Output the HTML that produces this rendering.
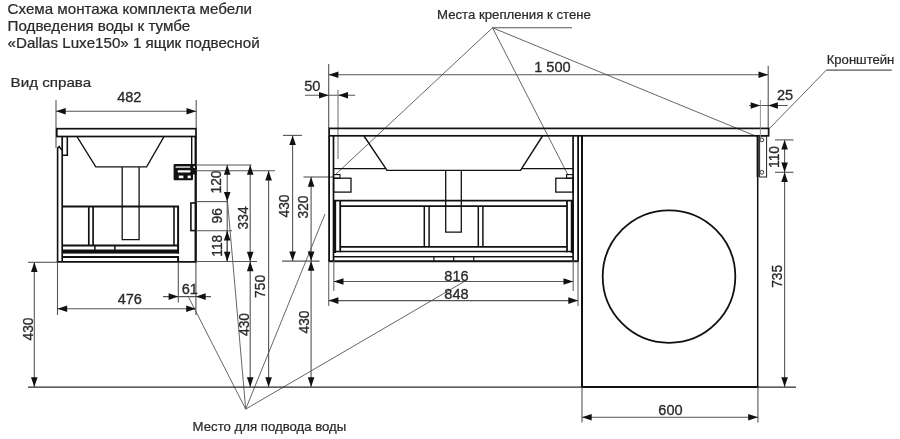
<!DOCTYPE html>
<html lang="ru">
<head>
<meta charset="utf-8">
<title>Схема монтажа комплекта мебели</title>
<style>
html,body{margin:0;padding:0;background:#fff;}
body{width:900px;height:439px;overflow:hidden;}
svg{display:block;font-family:"Liberation Sans",sans-serif;filter:blur(0.4px);}
</style>
</head>
<body>
<svg width="900" height="439" viewBox="0 0 900 439">
<rect x="0" y="0" width="900" height="439" fill="#fff"/>
<text transform="translate(7.6 13.5) scale(1.09 1)" font-size="13.9" text-anchor="start" fill="#2a2a2a" stroke="#2a2a2a" stroke-width="0.22">Схема монтажа комплекта мебели</text>
<text transform="translate(7.6 30.8) scale(1.09 1)" font-size="13.9" text-anchor="start" fill="#2a2a2a" stroke="#2a2a2a" stroke-width="0.22">Подведения воды к тумбе</text>
<text transform="translate(7.6 47.9) scale(1.09 1)" font-size="13.9" text-anchor="start" fill="#2a2a2a" stroke="#2a2a2a" stroke-width="0.22">«Dallas Luxe150» 1 ящик подвесной</text>
<text transform="translate(10.6 86.8) scale(1.115 1)" font-size="13.6" text-anchor="start" fill="#2a2a2a" stroke="#2a2a2a" stroke-width="0.22">Вид справа</text>
<text transform="translate(437 19.4)" font-size="13.2" text-anchor="start" fill="#2a2a2a" stroke="#2a2a2a" stroke-width="0.22">Места крепления к стене</text>
<text transform="translate(826.7 63.7)" font-size="13.1" text-anchor="start" fill="#2a2a2a" stroke="#2a2a2a" stroke-width="0.22">Кронштейн</text>
<text transform="translate(192.6 431.4)" font-size="13.2" text-anchor="start" fill="#2a2a2a" stroke="#2a2a2a" stroke-width="0.22">Место для подвода воды</text>
<line x1="492.5" y1="27.8" x2="572" y2="27.8" stroke="#555" stroke-width="1.1"/>
<line x1="492.5" y1="27.8" x2="336" y2="174" stroke="#555" stroke-width="0.9"/>
<line x1="492.5" y1="27.8" x2="568" y2="175" stroke="#555" stroke-width="0.9"/>
<line x1="492.5" y1="27.8" x2="757.5" y2="136.8" stroke="#555" stroke-width="0.9"/>
<line x1="826.3" y1="70.1" x2="891.7" y2="70.1" stroke="#555" stroke-width="1.1"/>
<line x1="826.3" y1="70.1" x2="769" y2="129" stroke="#555" stroke-width="0.9"/>
<line x1="245.7" y1="409.1" x2="188.5" y2="297" stroke="#555" stroke-width="0.9"/>
<line x1="245.7" y1="409.1" x2="227.5" y2="201" stroke="#555" stroke-width="0.9"/>
<line x1="245.7" y1="409.1" x2="325" y2="214" stroke="#555" stroke-width="0.9"/>
<line x1="245.7" y1="409.1" x2="466" y2="280.5" stroke="#555" stroke-width="0.9"/>
<line x1="28" y1="387" x2="796" y2="387" stroke="#2a2a2a" stroke-width="1.25"/>
<line x1="581.2" y1="387" x2="758.4" y2="387" stroke="#111" stroke-width="1.9"/>
<line x1="56" y1="100" x2="56" y2="148" stroke="#555" stroke-width="1.1"/>
<line x1="196.2" y1="100" x2="196.2" y2="128" stroke="#555" stroke-width="1.1"/>
<line x1="56" y1="111.3" x2="196.2" y2="111.3" stroke="#555" stroke-width="1.1"/>
<polygon points="56,111.3 65.7,108.0 65.7,114.6" fill="#111"/>
<polygon points="196.2,111.3 186.5,108.0 186.5,114.6" fill="#111"/>
<text transform="translate(129.3 102.0) scale(0.96 1)" font-size="15.2" text-anchor="middle" fill="#2a2a2a" stroke="#2a2a2a" stroke-width="0.32">482</text>
<rect x="56.8" y="128.7" width="139.2" height="7.8" stroke="#111" stroke-width="1.7" fill="none"/>
<path d="M57.6 262 L57.6 148.2 L59.2 146.6 L62 150.3" stroke="#111" stroke-width="1.6" fill="none" stroke-linejoin="miter"/>
<line x1="62.2" y1="136.5" x2="62.2" y2="262" stroke="#111" stroke-width="1.7"/>
<path d="M67.3 136.5 L67.3 155.2 L62.2 155.2" stroke="#111" stroke-width="1.6" fill="none" stroke-linejoin="miter"/>
<line x1="191.7" y1="136.5" x2="191.7" y2="165" stroke="#111" stroke-width="1.4"/>
<line x1="195.7" y1="136.5" x2="195.7" y2="262.6" stroke="#111" stroke-width="2.3"/>
<path d="M77 136.6 L95.8 166.9 L146.6 166.9 L164 136.6" stroke="#111" stroke-width="1.3" fill="none" stroke-linejoin="miter"/>
<path d="M122.2 166.9 L122.2 239.7 L139.1 239.7 L139.1 166.9" stroke="#111" stroke-width="1.3" fill="none" stroke-linejoin="miter"/>
<rect x="173.6" y="164" width="19.4" height="16.2" rx="1.2" fill="#111"/>
<rect x="192" y="164" width="4.6" height="10.5" fill="#111"/>
<rect x="175.6" y="166.4" width="14.6" height="1.3" fill="#fff"/>
<rect x="177.6" y="170.3" width="13" height="2.1" rx="0.8" fill="#fff"/>
<rect x="178.8" y="175.6" width="4.6" height="2.6" fill="#fff"/>
<rect x="187.6" y="175.6" width="3.2" height="2.6" fill="#fff"/>
<rect x="193.4" y="166.2" width="1.6" height="1.7" fill="#fff"/>
<rect x="190.9" y="203" width="4.9" height="27.6" stroke="#111" stroke-width="1.6" fill="none"/>
<line x1="62" y1="206.5" x2="179" y2="206.5" stroke="#111" stroke-width="1.8"/>
<line x1="88.8" y1="206.5" x2="88.8" y2="246" stroke="#111" stroke-width="1.7"/>
<line x1="93.1" y1="206.5" x2="93.1" y2="246" stroke="#111" stroke-width="1.7"/>
<line x1="174" y1="206.5" x2="174" y2="246" stroke="#111" stroke-width="1.6"/>
<line x1="178.1" y1="206.5" x2="178.1" y2="253.5" stroke="#111" stroke-width="2.0"/>
<line x1="62" y1="245.6" x2="178" y2="245.6" stroke="#111" stroke-width="2.0"/>
<rect x="62" y="249.5" width="117" height="4.1" stroke="none" stroke-width="0" fill="#111"/>
<line x1="94.9" y1="246" x2="94.9" y2="250" stroke="#111" stroke-width="1.5"/>
<line x1="114.9" y1="246" x2="114.9" y2="250" stroke="#111" stroke-width="1.5"/>
<line x1="62" y1="257" x2="179" y2="257" stroke="#111" stroke-width="1.8"/>
<line x1="178.1" y1="256.2" x2="178.1" y2="262" stroke="#111" stroke-width="2.0"/>
<line x1="56.8" y1="261.8" x2="196.8" y2="261.8" stroke="#111" stroke-width="1.8"/>
<line x1="28" y1="262.3" x2="57" y2="262.3" stroke="#555" stroke-width="1.1"/>
<line x1="57.5" y1="262" x2="57.5" y2="315" stroke="#555" stroke-width="1.1"/>
<line x1="195.9" y1="262" x2="195.9" y2="315" stroke="#555" stroke-width="1.1"/>
<line x1="178.3" y1="262" x2="178.3" y2="302.5" stroke="#555" stroke-width="1.1"/>
<line x1="57.5" y1="308.8" x2="195.9" y2="308.8" stroke="#555" stroke-width="1.1"/>
<polygon points="57.5,308.8 67.2,305.5 67.2,312.1" fill="#111"/>
<polygon points="195.9,308.8 186.2,305.5 186.2,312.1" fill="#111"/>
<text transform="translate(129.8 303.8) scale(0.96 1)" font-size="15.2" text-anchor="middle" fill="#2a2a2a" stroke="#2a2a2a" stroke-width="0.32">476</text>
<line x1="163" y1="296.6" x2="211" y2="296.6" stroke="#555" stroke-width="1.1"/>
<polygon points="178.3,296.6 168.6,293.3 168.6,299.9" fill="#111"/>
<polygon points="196,296.6 205.7,293.3 205.7,299.9" fill="#111"/>
<text transform="translate(189.8 294.0) scale(0.96 1)" font-size="15.2" text-anchor="middle" fill="#2a2a2a" stroke="#2a2a2a" stroke-width="0.32">61</text>
<line x1="34.3" y1="262.3" x2="34.3" y2="387" stroke="#555" stroke-width="1.1"/>
<polygon points="34.3,262.3 31.0,272.0 37.6,272.0" fill="#111"/>
<polygon points="34.3,387 31.0,377.3 37.6,377.3" fill="#111"/>
<text transform="translate(32.6 329.0) rotate(-90) scale(0.895 1)" font-size="15.4" text-anchor="middle" fill="#2a2a2a" stroke="#2a2a2a" stroke-width="0.32">430</text>
<line x1="196" y1="165" x2="251.5" y2="165" stroke="#555" stroke-width="1.1"/>
<line x1="196" y1="170.7" x2="275" y2="170.7" stroke="#555" stroke-width="1.1"/>
<line x1="196" y1="201.6" x2="228" y2="201.6" stroke="#555" stroke-width="1.1"/>
<line x1="196" y1="230.7" x2="232" y2="230.7" stroke="#555" stroke-width="1.1"/>
<line x1="196" y1="261.5" x2="257" y2="261.5" stroke="#555" stroke-width="1.1"/>
<line x1="227.2" y1="165" x2="227.2" y2="261.5" stroke="#555" stroke-width="1.1"/>
<polygon points="227.2,165 223.9,174.7 230.5,174.7" fill="#111"/>
<polygon points="227.2,201.6 223.9,191.9 230.5,191.9" fill="#111"/>
<text transform="translate(221.1 182.0) rotate(-90) scale(0.895 1)" font-size="15.4" text-anchor="middle" fill="#2a2a2a" stroke="#2a2a2a" stroke-width="0.32">120</text>
<text transform="translate(221.7 215.8) rotate(-90) scale(0.895 1)" font-size="15.4" text-anchor="middle" fill="#2a2a2a" stroke="#2a2a2a" stroke-width="0.32">96</text>
<line x1="227.2" y1="230.7" x2="227.2" y2="261.5" stroke="#555" stroke-width="1.1"/>
<polygon points="227.2,230.7 223.9,240.4 230.5,240.4" fill="#111"/>
<polygon points="227.2,261.5 223.9,251.8 230.5,251.8" fill="#111"/>
<text transform="translate(221.7 245.7) rotate(-90) scale(0.895 1)" font-size="15.4" text-anchor="middle" fill="#2a2a2a" stroke="#2a2a2a" stroke-width="0.32">118</text>
<line x1="250.2" y1="165" x2="250.2" y2="387" stroke="#555" stroke-width="1.1"/>
<polygon points="250.2,165 246.9,174.7 253.5,174.7" fill="#111"/>
<polygon points="250.2,261.5 246.9,251.8 253.5,251.8" fill="#111"/>
<polygon points="250.2,261.5 246.9,271.2 253.5,271.2" fill="#111"/>
<polygon points="250.2,387 246.9,377.3 253.5,377.3" fill="#111"/>
<text transform="translate(248.4 217.9) rotate(-90) scale(0.895 1)" font-size="15.4" text-anchor="middle" fill="#2a2a2a" stroke="#2a2a2a" stroke-width="0.32">334</text>
<text transform="translate(249.0 324.5) rotate(-90) scale(0.895 1)" font-size="15.4" text-anchor="middle" fill="#2a2a2a" stroke="#2a2a2a" stroke-width="0.32">430</text>
<line x1="268.6" y1="170.7" x2="268.6" y2="387" stroke="#555" stroke-width="1.1"/>
<polygon points="268.6,170.7 265.3,180.4 271.9,180.4" fill="#111"/>
<polygon points="268.6,387 265.3,377.3 271.9,377.3" fill="#111"/>
<text transform="translate(265.3 286.4) rotate(-90) scale(0.895 1)" font-size="15.4" text-anchor="middle" fill="#2a2a2a" stroke="#2a2a2a" stroke-width="0.32">750</text>
<line x1="283" y1="135.4" x2="302" y2="135.4" stroke="#555" stroke-width="1.1"/>
<line x1="282" y1="261.1" x2="319.5" y2="261.1" stroke="#555" stroke-width="1.1"/>
<line x1="292.6" y1="135.4" x2="292.6" y2="261.1" stroke="#555" stroke-width="1.1"/>
<polygon points="292.6,135.4 289.3,145.1 295.9,145.1" fill="#111"/>
<polygon points="292.6,261.1 289.3,251.4 295.9,251.4" fill="#111"/>
<text transform="translate(289.1 206.0) rotate(-90) scale(0.895 1)" font-size="15.4" text-anchor="middle" fill="#2a2a2a" stroke="#2a2a2a" stroke-width="0.32">430</text>
<line x1="303.5" y1="177" x2="334" y2="177" stroke="#555" stroke-width="1.1"/>
<line x1="311.1" y1="177" x2="311.1" y2="387" stroke="#555" stroke-width="1.1"/>
<polygon points="311.1,177 307.8,186.7 314.4,186.7" fill="#111"/>
<polygon points="311.1,261.1 307.8,251.4 314.4,251.4" fill="#111"/>
<polygon points="311.1,261.1 307.8,270.8 314.4,270.8" fill="#111"/>
<polygon points="311.1,387 307.8,377.3 314.4,377.3" fill="#111"/>
<text transform="translate(307.7 207.0) rotate(-90) scale(0.895 1)" font-size="15.4" text-anchor="middle" fill="#2a2a2a" stroke="#2a2a2a" stroke-width="0.32">320</text>
<text transform="translate(309.1 322.0) rotate(-90) scale(0.895 1)" font-size="15.4" text-anchor="middle" fill="#2a2a2a" stroke="#2a2a2a" stroke-width="0.32">430</text>
<line x1="328.7" y1="64" x2="328.7" y2="128" stroke="#555" stroke-width="1.1"/>
<line x1="768.2" y1="65.7" x2="768.2" y2="128" stroke="#555" stroke-width="1.1"/>
<line x1="328.7" y1="74.8" x2="768.2" y2="74.8" stroke="#555" stroke-width="1.1"/>
<polygon points="328.7,74.8 338.4,71.5 338.4,78.1" fill="#111"/>
<polygon points="768.2,74.8 758.5,71.5 758.5,78.1" fill="#111"/>
<text transform="translate(552.4 71.5) scale(0.96 1)" font-size="15.2" text-anchor="middle" fill="#2a2a2a" stroke="#2a2a2a" stroke-width="0.32">1 500</text>
<line x1="305" y1="95.3" x2="355" y2="95.3" stroke="#555" stroke-width="1.1"/>
<polygon points="328.7,95.3 319.0,92.0 319.0,98.6" fill="#111"/>
<polygon points="338.3,95.3 348.0,92.0 348.0,98.6" fill="#111"/>
<line x1="338" y1="89.7" x2="338" y2="159" stroke="#777" stroke-width="1.1"/>
<text transform="translate(312.3 90.7) scale(0.96 1)" font-size="15.2" text-anchor="middle" fill="#2a2a2a" stroke="#2a2a2a" stroke-width="0.32">50</text>
<rect x="329.1" y="128.4" width="439.5" height="7.4" stroke="#111" stroke-width="1.7" fill="none"/>
<line x1="329.1" y1="136" x2="329.1" y2="261.8" stroke="#111" stroke-width="1.8"/>
<line x1="333.5" y1="136" x2="333.5" y2="261.8" stroke="#111" stroke-width="1.7"/>
<line x1="573.1" y1="136" x2="573.1" y2="261.8" stroke="#111" stroke-width="1.7"/>
<line x1="578.1" y1="136" x2="578.1" y2="261.8" stroke="#111" stroke-width="1.8"/>
<line x1="582" y1="136" x2="582" y2="387" stroke="#111" stroke-width="2.0"/>
<line x1="757.7" y1="136" x2="757.7" y2="177" stroke="#111" stroke-width="2.2"/>
<line x1="757.7" y1="177" x2="757.7" y2="387" stroke="#111" stroke-width="1.5"/>
<circle cx="669" cy="276.6" r="66.3" stroke="#111" stroke-width="1.8" fill="none"/>
<path d="M364 136 L387 170.4 L520.5 170.4 L542.5 136" stroke="#111" stroke-width="1.4" fill="none" stroke-linejoin="miter"/>
<line x1="333.8" y1="168.6" x2="385.5" y2="168.6" stroke="#111" stroke-width="1.3"/>
<line x1="521.5" y1="168.6" x2="573" y2="168.6" stroke="#111" stroke-width="1.3"/>
<path d="M445.7 170 L445.7 232.2 L461.3 232.2 L461.3 170" stroke="#111" stroke-width="1.3" fill="none" stroke-linejoin="miter"/>
<rect x="333.6" y="178.2" width="17.4" height="13.9" stroke="#111" stroke-width="1.3" fill="none"/>
<rect x="333.6" y="174.6" width="6.4" height="3.6" stroke="#111" stroke-width="1.1" fill="none"/>
<rect x="555.8" y="178.2" width="17.2" height="13.9" stroke="#111" stroke-width="1.3" fill="none"/>
<rect x="566.6" y="174.6" width="6.4" height="3.6" stroke="#111" stroke-width="1.1" fill="none"/>
<line x1="334" y1="200.6" x2="573" y2="200.6" stroke="#111" stroke-width="1.8"/>
<line x1="340" y1="206.1" x2="567" y2="206.1" stroke="#111" stroke-width="1.7"/>
<line x1="334.7" y1="200.5" x2="334.7" y2="253" stroke="#111" stroke-width="2.9"/>
<line x1="340.2" y1="200.5" x2="340.2" y2="252.2" stroke="#111" stroke-width="1.8"/>
<line x1="424.3" y1="206" x2="424.3" y2="247" stroke="#111" stroke-width="1.5"/>
<line x1="429.1" y1="206" x2="429.1" y2="247" stroke="#111" stroke-width="1.5"/>
<line x1="478.3" y1="206" x2="478.3" y2="247" stroke="#111" stroke-width="1.5"/>
<line x1="482.9" y1="206" x2="482.9" y2="247" stroke="#111" stroke-width="1.5"/>
<line x1="567" y1="200.5" x2="567" y2="252.2" stroke="#111" stroke-width="1.8"/>
<line x1="572.2" y1="200.5" x2="572.2" y2="253" stroke="#111" stroke-width="2.9"/>
<line x1="340" y1="246.9" x2="567" y2="246.9" stroke="#111" stroke-width="1.8"/>
<line x1="335" y1="251.5" x2="572" y2="251.5" stroke="#111" stroke-width="1.7"/>
<line x1="333.5" y1="256.7" x2="573.2" y2="256.7" stroke="#111" stroke-width="1.6"/>
<line x1="433.9" y1="257" x2="433.9" y2="261" stroke="#111" stroke-width="1.2"/>
<line x1="453.7" y1="257" x2="453.7" y2="261" stroke="#111" stroke-width="1.2"/>
<line x1="473.8" y1="257" x2="473.8" y2="261" stroke="#111" stroke-width="1.2"/>
<line x1="328.2" y1="261.2" x2="579" y2="261.2" stroke="#111" stroke-width="1.9"/>
<line x1="333.8" y1="261" x2="333.8" y2="291" stroke="#666" stroke-width="1.1"/>
<line x1="573.2" y1="261" x2="573.2" y2="291" stroke="#666" stroke-width="1.1"/>
<line x1="328.7" y1="261" x2="328.7" y2="306" stroke="#666" stroke-width="1.1"/>
<line x1="578" y1="261" x2="578" y2="306" stroke="#666" stroke-width="1.1"/>
<line x1="333.8" y1="281.5" x2="573.2" y2="281.5" stroke="#555" stroke-width="1.1"/>
<polygon points="333.8,281.5 343.5,278.2 343.5,284.8" fill="#111"/>
<polygon points="573.2,281.5 563.5,278.2 563.5,284.8" fill="#111"/>
<line x1="328.7" y1="300.6" x2="578" y2="300.6" stroke="#555" stroke-width="1.1"/>
<polygon points="328.7,300.6 338.4,297.3 338.4,303.9" fill="#111"/>
<polygon points="578,300.6 568.3,297.3 568.3,303.9" fill="#111"/>
<text transform="translate(456.5 280.7) scale(0.96 1)" font-size="15.2" text-anchor="middle" fill="#2a2a2a" stroke="#2a2a2a" stroke-width="0.32">816</text>
<text transform="translate(456.5 299.4) scale(0.96 1)" font-size="15.2" text-anchor="middle" fill="#2a2a2a" stroke="#2a2a2a" stroke-width="0.32">848</text>
<line x1="582" y1="387" x2="582" y2="422.5" stroke="#555" stroke-width="1.1"/>
<line x1="757.9" y1="387" x2="757.9" y2="422.5" stroke="#555" stroke-width="1.1"/>
<line x1="582" y1="417.3" x2="757.9" y2="417.3" stroke="#555" stroke-width="1.1"/>
<polygon points="582,417.3 591.7,414.0 591.7,420.6" fill="#111"/>
<polygon points="757.9,417.3 748.2,414.0 748.2,420.6" fill="#111"/>
<text transform="translate(670.5 414.6) scale(0.96 1)" font-size="15.2" text-anchor="middle" fill="#2a2a2a" stroke="#2a2a2a" stroke-width="0.32">600</text>
<rect x="759.6" y="136" width="7.0" height="41" stroke="#222" stroke-width="1.0" fill="none"/>
<circle cx="761.8" cy="139.9" r="1.9" stroke="#222" stroke-width="0.9" fill="none"/>
<circle cx="761.8" cy="172.3" r="1.9" stroke="#222" stroke-width="0.9" fill="none"/>
<line x1="775" y1="139.9" x2="793.5" y2="139.9" stroke="#555" stroke-width="1.1"/>
<line x1="775" y1="172.3" x2="793.5" y2="172.3" stroke="#555" stroke-width="1.1"/>
<line x1="784.6" y1="139.9" x2="784.6" y2="387" stroke="#555" stroke-width="1.1"/>
<polygon points="784.6,139.9 781.3,149.6 787.9,149.6" fill="#111"/>
<polygon points="784.6,172.3 781.3,162.6 787.9,162.6" fill="#111"/>
<polygon points="784.6,172.3 781.3,182.0 787.9,182.0" fill="#111"/>
<polygon points="784.6,387 781.3,377.3 787.9,377.3" fill="#111"/>
<text transform="translate(779.4 157.0) rotate(-90) scale(0.895 1)" font-size="15.4" text-anchor="middle" fill="#2a2a2a" stroke="#2a2a2a" stroke-width="0.32">110</text>
<text transform="translate(782.4 276.3) rotate(-90) scale(0.895 1)" font-size="15.4" text-anchor="middle" fill="#2a2a2a" stroke="#2a2a2a" stroke-width="0.32">735</text>
<line x1="749" y1="105.5" x2="787.6" y2="105.5" stroke="#555" stroke-width="1.1"/>
<polygon points="760.4,105.5 750.7,102.2 750.7,108.8" fill="#111"/>
<polygon points="768.2,105.5 777.9,102.2 777.9,108.8" fill="#111"/>
<line x1="760.4" y1="100" x2="760.4" y2="138.5" stroke="#888" stroke-width="0.9"/>
<text transform="translate(785.0 100.0) scale(0.96 1)" font-size="15.2" text-anchor="middle" fill="#2a2a2a" stroke="#2a2a2a" stroke-width="0.32">25</text>
</svg>
</body>
</html>
